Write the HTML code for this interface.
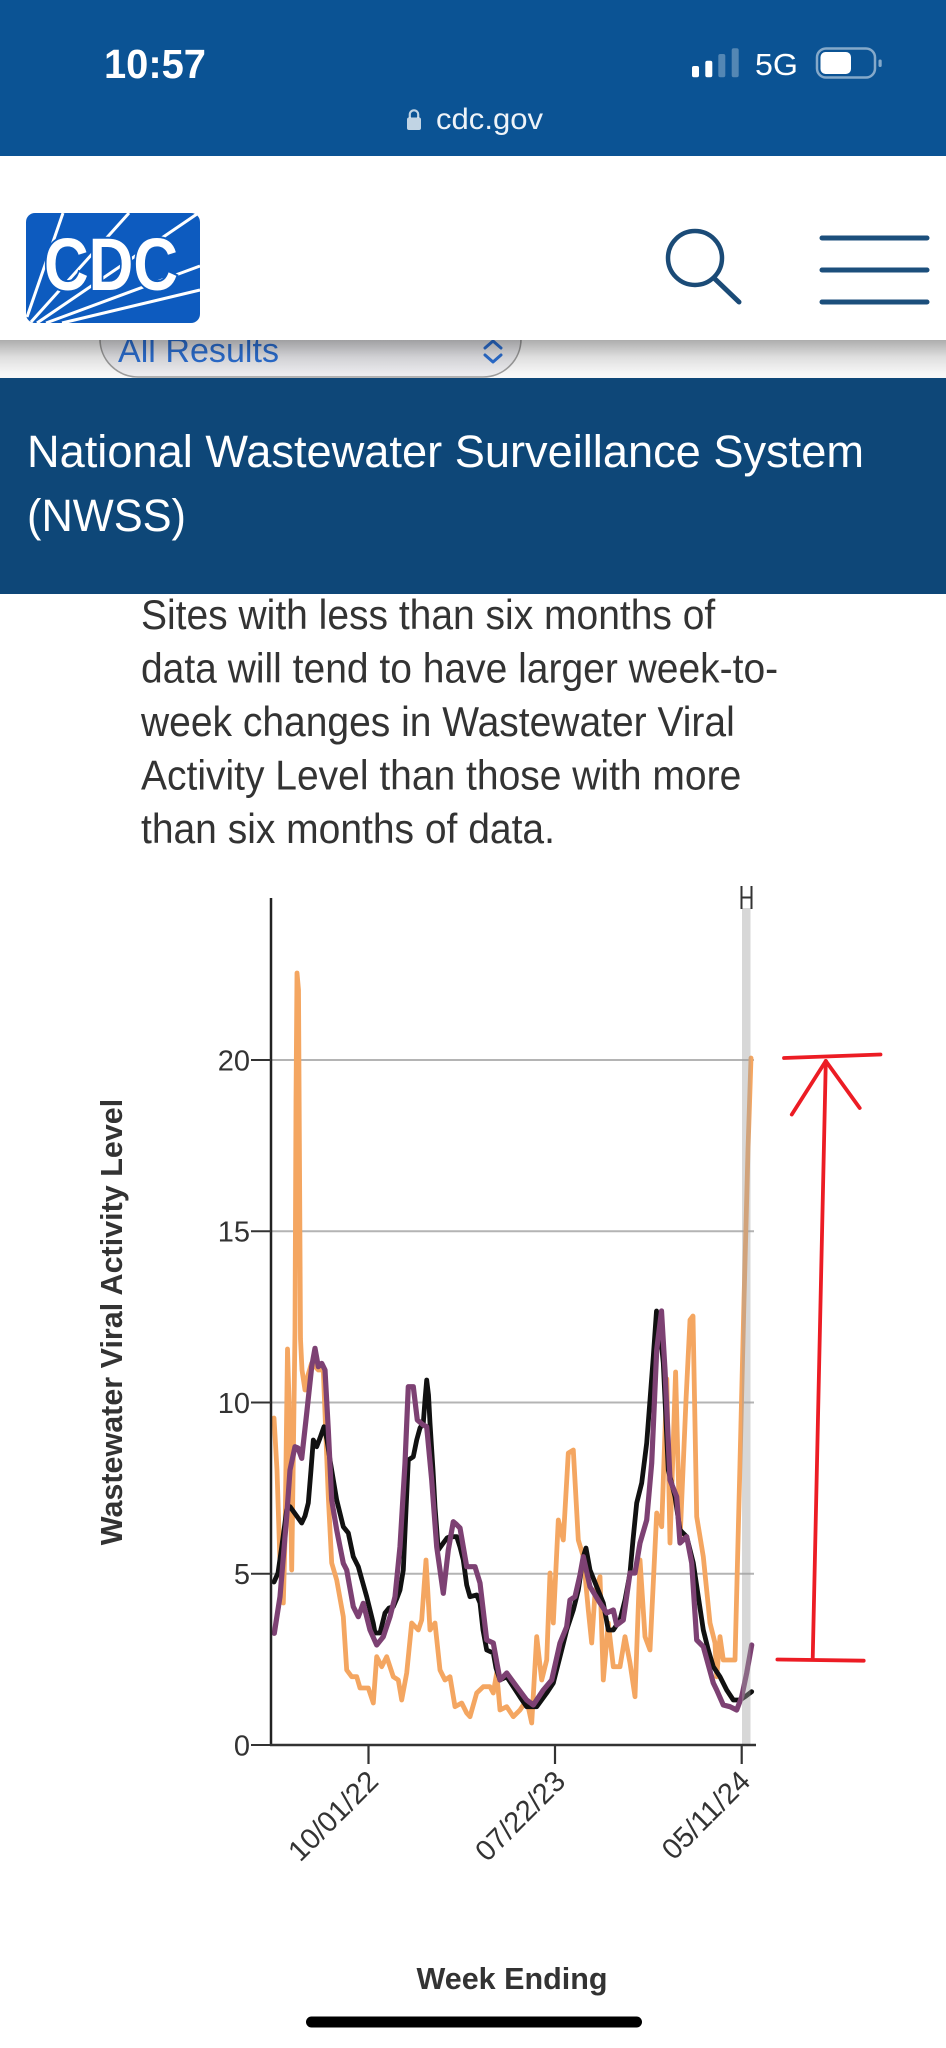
<!DOCTYPE html>
<html>
<head>
<meta charset="utf-8">
<style>
  html, body { margin: 0; padding: 0; background: #ffffff; }
  body { width: 946px; height: 2048px; overflow: hidden; }
  svg { display: block; }
  text { font-family: "Liberation Sans", Arial, sans-serif; }
</style>
</head>
<body>
<svg width="946" height="2048" viewBox="0 0 946 2048" xmlns="http://www.w3.org/2000/svg">
  <defs>
    <linearGradient id="shadow" x1="0" y1="0" x2="0" y2="1">
      <stop offset="0" stop-color="#000" stop-opacity="0.30"/>
      <stop offset="0.5" stop-color="#000" stop-opacity="0.10"/>
      <stop offset="1" stop-color="#000" stop-opacity="0"/>
    </linearGradient>
    <linearGradient id="pill" x1="0" y1="0" x2="0" y2="1">
      <stop offset="0" stop-color="#dcdce0"/>
      <stop offset="1" stop-color="#ececef"/>
    </linearGradient>
  </defs>

  <!-- page background -->
  <rect x="0" y="0" width="946" height="2048" fill="#ffffff"/>

  <!-- ===== Status bar ===== -->
  <rect x="0" y="0" width="946" height="156" fill="#0b5394"/>
  <text x="104" y="78" font-size="41" font-weight="bold" fill="#ffffff" textLength="102" lengthAdjust="spacingAndGlyphs">10:57</text>
  <!-- signal -->
  <rect x="692" y="66" width="7" height="11.3" rx="2" fill="#ffffff"/>
  <rect x="705.3" y="60.7" width="7" height="16.6" rx="2" fill="#ffffff"/>
  <rect x="718.3" y="54" width="7" height="23.3" rx="2" fill="#ffffff" fill-opacity="0.3"/>
  <rect x="731.7" y="48.3" width="7" height="29" rx="2" fill="#ffffff" fill-opacity="0.3"/>
  <text x="755" y="75" font-size="31" fill="#ffffff" textLength="43" lengthAdjust="spacingAndGlyphs">5G</text>
  <!-- battery -->
  <rect x="817" y="48.5" width="58" height="29" rx="9" fill="none" stroke="#ffffff" stroke-opacity="0.5" stroke-width="2.5"/>
  <rect x="820.5" y="52" width="30.5" height="22" rx="5" fill="#ffffff"/>
  <rect x="878.5" y="59.5" width="3.2" height="7.5" rx="1.5" fill="#ffffff" fill-opacity="0.5"/>
  <!-- lock + url -->
  <path d="M409.8,118 v-3.5 a4.2,4.2 0 0 1 8.4,0 v3.5" fill="none" stroke="#ffffff" stroke-opacity="0.75" stroke-width="2.2"/>
  <rect x="407" y="117.5" width="14" height="12.5" rx="2" fill="#ffffff" fill-opacity="0.75"/>
  <text x="436" y="129" font-size="30" fill="#eef3f8" textLength="107" lengthAdjust="spacingAndGlyphs">cdc.gov</text>

  <!-- ===== Dropdown strip (under header shadow) ===== -->
  <rect x="0" y="340" width="946" height="38" fill="#f7f7f7"/>
  <rect x="100" y="300" width="421" height="77" rx="38" fill="url(#pill)" stroke="#9c9c9c" stroke-width="1.6"/>
  <text x="118" y="362" font-size="34" fill="#2b6fd3" textLength="161" lengthAdjust="spacingAndGlyphs">All Results</text>
  <path d="M485,348 l8,-7 l8,7" fill="none" stroke="#2b6fd3" stroke-width="3" stroke-linecap="round" stroke-linejoin="round"/>
  <path d="M485,355 l8,7 l8,-7" fill="none" stroke="#2b6fd3" stroke-width="3" stroke-linecap="round" stroke-linejoin="round"/>
  <rect x="0" y="340" width="946" height="34" fill="url(#shadow)"/>

  <!-- ===== White header ===== -->
  <rect x="0" y="156" width="946" height="184" fill="#ffffff"/>
  <!-- CDC logo -->
  <rect x="26" y="213" width="174" height="110" rx="9" fill="#0d5bbf"/>
  <g stroke="#ffffff" stroke-width="3" stroke-linecap="butt">
    <line x1="27" y1="317" x2="63" y2="213"/>
    <line x1="31" y1="322" x2="129" y2="213"/>
    <line x1="37" y1="323" x2="197" y2="214"/>
    <line x1="46" y1="323" x2="200" y2="266"/>
    <line x1="62" y1="323" x2="200" y2="290"/>
  </g>
  <text x="44" y="290" font-size="74" font-weight="bold" fill="#ffffff" stroke="#0d5bbf" stroke-width="4" paint-order="stroke" textLength="134" lengthAdjust="spacingAndGlyphs">CDC</text>
  <!-- search icon -->
  <circle cx="695" cy="258" r="27" fill="none" stroke="#1b4b77" stroke-width="4.5"/>
  <line x1="715" y1="279" x2="739" y2="302" stroke="#1b4b77" stroke-width="5" stroke-linecap="round"/>
  <!-- hamburger -->
  <g stroke="#1c4f7c" stroke-width="5" stroke-linecap="round">
    <line x1="822" y1="238" x2="927" y2="238"/>
    <line x1="822" y1="270" x2="927" y2="270"/>
    <line x1="822" y1="302" x2="927" y2="302"/>
  </g>

  <!-- ===== Title band ===== -->
  <rect x="0" y="378" width="946" height="216" fill="#0e4778"/>
  <text x="27" y="467" font-size="45" fill="#ffffff" textLength="837" lengthAdjust="spacingAndGlyphs">National Wastewater Surveillance System</text>
  <text x="27" y="531" font-size="45" fill="#ffffff" textLength="159" lengthAdjust="spacingAndGlyphs">(NWSS)</text>

  <!-- ===== Body text ===== -->
  <g font-size="39" fill="#333333">
    <text x="141" y="0" transform="translate(0 629) scale(1 1.08)">Sites with less than six months of</text>
    <text x="141" y="0" transform="translate(0 682.5) scale(1 1.08)">data will tend to have larger week-to-</text>
    <text x="141" y="0" transform="translate(0 736) scale(1 1.08)">week changes in Wastewater Viral</text>
    <text x="141" y="0" transform="translate(0 789.5) scale(1 1.08)">Activity Level than those with more</text>
    <text x="141" y="0" transform="translate(0 843) scale(1 1.08)">than six months of data.</text>
  </g>

  <!-- ===== Chart ===== -->
  <!-- gridlines -->
  <g stroke="#b4b4b4" stroke-width="2">
    <line x1="271" y1="1060" x2="754" y2="1060"/>
    <line x1="271" y1="1231.25" x2="754" y2="1231.25"/>
    <line x1="271" y1="1402.5" x2="754" y2="1402.5"/>
    <line x1="271" y1="1573.75" x2="754" y2="1573.75"/>
  </g>

  <!-- series: orange -->
  <polyline fill="none" stroke="#f4a661" stroke-width="4.8" stroke-linejoin="round" stroke-linecap="round"
    points="274,1418 277,1470 280,1563 283.3,1603 285,1540 286,1463 287.5,1349 289,1400 291.7,1570 293,1480 295,1330 296,1100 297,973 298.5,990 300.5,1339 302,1370 305,1390 308,1375 311.7,1363 318.3,1370 323.3,1370 328.3,1496.7 331.7,1563 336.7,1580 343.3,1616.7 346.7,1670 351.7,1676.7 356.7,1676.7 360,1688 368.3,1688 373.3,1703 376.7,1656.7 381.7,1666.7 386.7,1656.7 393.3,1676.7 398.3,1680 401.7,1700 406.7,1673 411.7,1623 418.3,1630 421.7,1620 426,1560 430,1630 435,1623 440,1670 445,1680 450,1676.7 455,1706.7 461.7,1703 466.7,1713 470,1716.7 476.7,1693 483.3,1686.7 490,1686.7 493.3,1693 496.7,1673 500,1710 506.7,1706.7 513.3,1716.7 520,1710 526.7,1700 531.7,1723 536.7,1636.7 541.7,1680 546.7,1660 550,1573 553.3,1623 558.3,1520 563.3,1540 568.3,1453 573.3,1450 578.3,1540 583.3,1556.7 588.3,1610 591.7,1643 595,1593 600,1576.7 603.3,1680 608.3,1623 613.3,1666.7 620,1666.7 625,1636.7 630,1663 635,1696.7 640,1560 645,1636.7 650,1650 656.7,1513 661.7,1526.7 666.8,1379 670,1543 675.6,1372 680,1540 686,1400 690,1320 693,1316 696.7,1516.7 703.3,1556.7 710,1623 715,1643 716.7,1676.7 720,1636.7 723.3,1660 730,1660 735,1660 740,1463 744,1300 748,1150 751,1058"/>

  <!-- series: black -->
  <polyline fill="none" stroke="#111111" stroke-width="4.8" stroke-linejoin="round" stroke-linecap="round"
    points="274,1582 278,1573 282,1545 286.7,1510 290,1506.7 296,1515 301.7,1523 305,1516 308.3,1503 311,1470 313.3,1440 316.7,1446.7 320,1438 324,1426.7 327,1440 330,1460 336.7,1500 343.3,1526.7 348.3,1533 353.3,1556.7 358.3,1566.7 362,1580 366.7,1596.7 370,1610 373.3,1623.3 375,1633 380,1633 385,1613 389,1608 393.3,1606.7 397,1598 400,1590 403.3,1570 406,1510 408.3,1460 413.3,1456.7 416.7,1440 420,1428 423.3,1423 425,1400 426.7,1380 428.5,1395 430,1423 433,1470 435,1506.7 438.3,1550 443.3,1543 447,1538 450,1536.7 456.7,1536.7 460,1547 463.3,1560 466.7,1585 470,1596.7 476.7,1595 480,1603 483,1630 486.7,1650 493.3,1653 496,1668 500,1680 506.7,1676.7 513.3,1686.7 520,1697 526.7,1706.7 536.7,1706.7 546.7,1693 553.3,1683 560,1656.7 566.7,1630 573.3,1610 578.3,1590 583.3,1556.7 586,1548 590,1570 596.7,1586.7 603.3,1603 608.3,1630 613.3,1630 620,1620 625,1600 630,1573 633,1540 636.7,1503 641.7,1483 646.7,1443 650,1400 653.3,1356.7 656.5,1311 659,1320 663.3,1363 668.3,1470 675,1496.7 680,1530 686.7,1536.7 693.3,1563 698.3,1596.7 703.3,1630 708.3,1650 713.3,1666.7 720,1676.7 726.7,1690 733.3,1700 740,1700 746,1696 751.7,1691.7"/>

  <!-- series: purple -->
  <polyline fill="none" stroke="#7d4173" stroke-width="5.2" stroke-linejoin="round" stroke-linecap="round"
    points="274.3,1633.3 280,1596.7 286.7,1516.7 290,1470 295,1446.7 298,1448 301.7,1458.3 306.7,1413.3 311.7,1366.7 315,1348.3 318.3,1366.7 321.7,1363.3 325,1370 328.3,1430 331.7,1500 336.7,1530 343.3,1563.3 346.7,1570 353.3,1606.7 358.3,1616.7 363.3,1603.3 370,1630 376.7,1645 383.3,1636.7 390,1616.7 395,1596.7 400,1546.7 405,1463.3 408.3,1386.7 413.3,1386.7 417.3,1420 423.3,1425 426.7,1426.7 431.7,1480 436.7,1546.7 443.3,1593.3 448.3,1550 453.3,1521.7 456,1524 460,1528 466.7,1566.7 475,1566.7 480,1583 486.7,1640 493.3,1643 500,1680 506.7,1673 516.7,1686.7 526.7,1700 533.3,1705 543.3,1690 551.7,1680 560,1643 566.7,1626.7 570,1600 575,1596.7 580,1575 583.3,1556.7 590,1586.7 600,1603 606.7,1613 613.3,1610 616.7,1625 623.3,1620 630,1573 635,1573 640,1543 646.7,1520 651.7,1463 656.7,1350 661.5,1311 665,1370 670,1480 676.7,1496.7 680,1543 686.7,1536.7 691.7,1563 696.7,1640 703.3,1646.7 713.3,1683 716.7,1690 723.3,1705 730,1706.7 736.7,1710 741.7,1696.7 746.7,1673 751.7,1645"/>

  <!-- highlight band + handle -->
  <rect x="742" y="908" width="8.5" height="837" fill="#a0a0a0" fill-opacity="0.42"/>
  <g stroke="#333333" stroke-width="2" fill="none">
    <line x1="741.5" y1="886" x2="741.5" y2="909"/>
    <line x1="751.5" y1="886" x2="751.5" y2="909"/>
    <line x1="741.5" y1="897.5" x2="751.5" y2="897.5"/>
  </g>

  <!-- axes -->
  <line x1="271" y1="898" x2="271" y2="1746" stroke="#222222" stroke-width="2.5"/>
  <line x1="270" y1="1745" x2="756" y2="1745" stroke="#333333" stroke-width="2.5"/>
  <!-- y ticks -->
  <g stroke="#333333" stroke-width="2">
    <line x1="251" y1="1060" x2="271" y2="1060"/>
    <line x1="251" y1="1231.25" x2="271" y2="1231.25"/>
    <line x1="251" y1="1402.5" x2="271" y2="1402.5"/>
    <line x1="251" y1="1573.75" x2="271" y2="1573.75"/>
    <line x1="251" y1="1745" x2="271" y2="1745"/>
  </g>
  <g font-size="29" fill="#333333" text-anchor="end">
    <text x="250" y="1070.5">20</text>
    <text x="250" y="1241.5">15</text>
    <text x="250" y="1413">10</text>
    <text x="250" y="1584">5</text>
    <text x="250" y="1755.5">0</text>
  </g>
  <!-- x ticks -->
  <g stroke="#333333" stroke-width="2.2">
    <line x1="368.5" y1="1745" x2="368.5" y2="1764"/>
    <line x1="555" y1="1745" x2="555" y2="1764"/>
    <line x1="741.7" y1="1745" x2="741.7" y2="1764"/>
  </g>
  <g font-size="29" fill="#333333" text-anchor="end">
    <text x="380" y="1783" transform="rotate(-45 380 1783)">10/01/22</text>
    <text x="567" y="1783" transform="rotate(-45 567 1783)">07/22/23</text>
    <text x="752" y="1783" transform="rotate(-45 752 1783)">05/11/24</text>
  </g>

  <!-- red annotation arrow -->
  <g stroke="#ec1c24" stroke-width="3.8" stroke-linecap="round" fill="none">
    <line x1="784" y1="1058" x2="880.5" y2="1054.5"/>
    <line x1="825.8" y1="1061" x2="791.8" y2="1114.5"/>
    <line x1="825.8" y1="1061" x2="859.7" y2="1108"/>
    <line x1="812.7" y1="1659.5" x2="825.8" y2="1061"/>
    <line x1="777.4" y1="1659.5" x2="863.7" y2="1660.7"/>
  </g>

  <!-- axis titles -->
  <text x="122" y="1322" font-size="30.5" font-weight="bold" fill="#333333" text-anchor="middle" transform="rotate(-90 122 1322)">Wastewater Viral Activity Level</text>
  <text x="512" y="1989" font-size="30.5" font-weight="bold" fill="#333333" text-anchor="middle">Week Ending</text>

  <!-- home indicator -->
  <rect x="306" y="2016.5" width="336" height="11" rx="5.5" fill="#000000"/>
</svg>
</body>
</html>
